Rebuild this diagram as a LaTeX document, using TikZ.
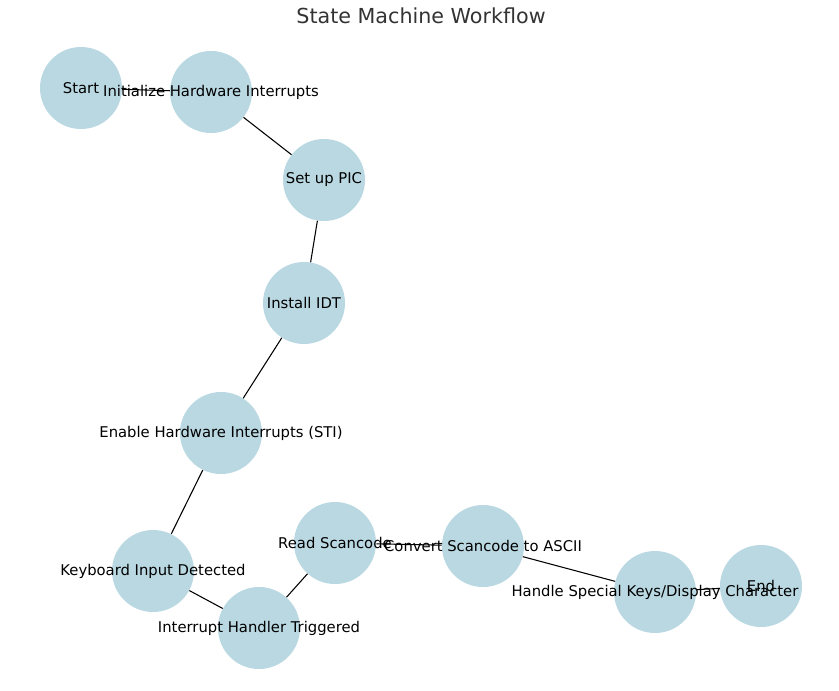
\documentclass[tikz,border=0pt]{standalone}
\usepackage{fontspec}
\setmainfont{DejaVu Sans}
\definecolor{statefill}{RGB}{185,216,226}
\definecolor{titlegray}{RGB}{51,51,51}
\tikzset{
  state/.style={circle,fill=statefill,minimum size=61.5pt,inner sep=0pt},
  lbl/.style={inner sep=0.75pt,font=\fontsize{11.1}{13}\selectfont},
  edge/.style={line width=0.8pt}
}
\begin{document}
\begin{tikzpicture}[x=0.75pt,y=0.75pt,yscale=-1,xscale=1]
\useasboundingbox (0,0) rectangle (839,690);
% states
\node[state] (start) at (81,88) {};
\node[state] (init) at (211,92) {};
\node[state] (pic) at (324,180) {};
\node[state] (idt) at (304,303) {};
\node[state] (sti) at (221,433) {};
\node[state] (kbd) at (153,571) {};
\node[state] (isr) at (259,628) {};
\node[state] (read) at (335,543) {};
\node[state] (conv) at (483,546) {};
\node[state] (disp) at (655,592) {};
\node[state] (end) at (761,586) {};
% transitions
\draw[edge] (start) -- (init);
\draw[edge] (init) -- (pic);
\draw[edge] (pic) -- (idt);
\draw[edge] (idt) -- (sti);
\draw[edge] (sti) -- (kbd);
\draw[edge] (kbd) -- (isr);
\draw[edge] (isr) -- (read);
\draw[edge] (read) -- (conv);
\draw[edge] (conv) -- (disp);
\draw[edge] (disp) -- (end);
% labels
\node[lbl] (startl) at (start) {Start};
\node[lbl] (initl) at (init) {Initialize Hardware Interrupts};
\node[lbl] (picl) at (pic) {Set up PIC};
\node[lbl] (idtl) at (idt) {Install IDT};
\node[lbl] (stil) at (sti) {Enable Hardware Interrupts (STI)};
\node[lbl] (kbdl) at (kbd) {Keyboard Input Detected};
\node[lbl] (isrl) at (isr) {Interrupt Handler Triggered};
\node[lbl] (readl) at (read) {Read Scancode};
\node[lbl] (convl) at (conv) {Convert Scancode to ASCII};
\node[lbl] (displ) at (disp) {Handle Special Keys/Display Character};
\node[lbl] (endl) at (end) {End};
\node[font=\fontsize{15.5}{18}\selectfont,text=titlegray] (title) at (421,16) {State Machine Workflow};
\end{tikzpicture}
\end{document}
